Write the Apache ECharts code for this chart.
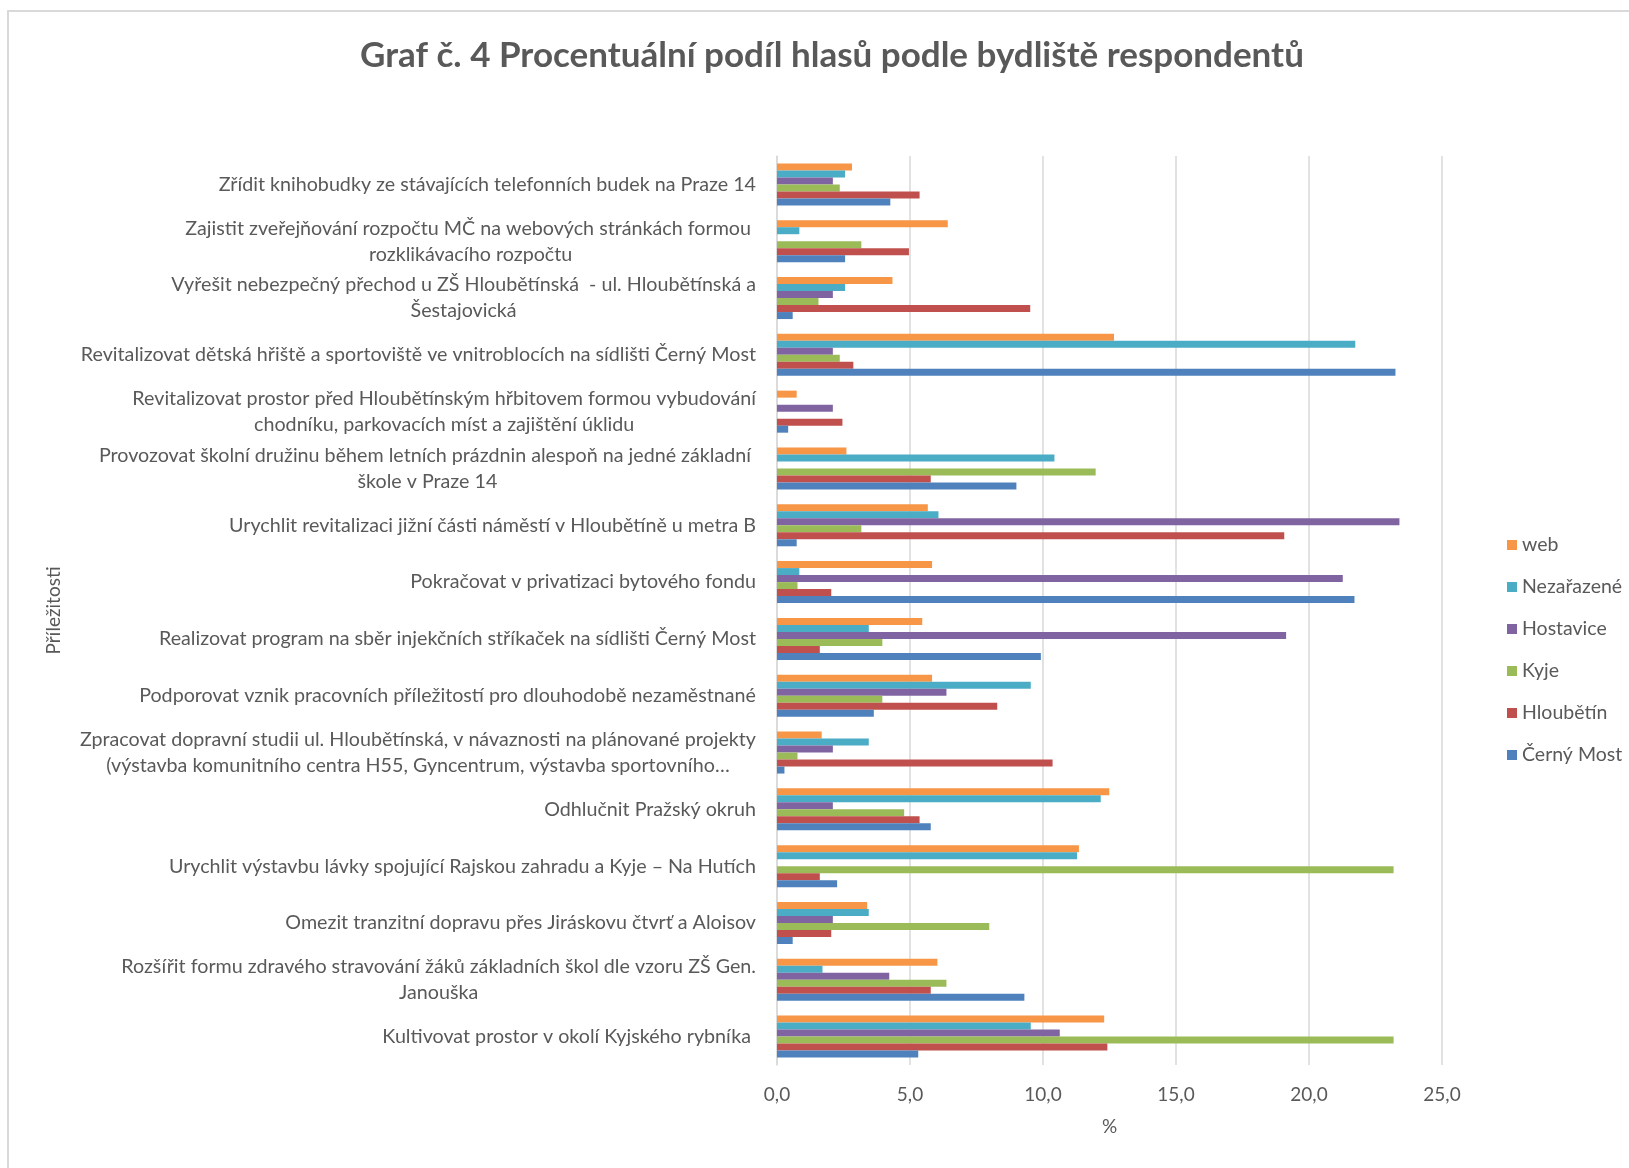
<!DOCTYPE html>
<html>
<head>
<meta charset="utf-8">
<script src="https://cdn.jsdelivr.net/npm/echarts@6/dist/echarts.min.js"></script>
<style>
html,body{margin:0;padding:0;background:#fff;}
#chart{width:1629px;height:1168px;}
</style>
</head>
<body>
<div id="chart"></div>
<script>
const categories = [
  'Zřídit knihobudky ze stávajících telefonních budek na Praze 14',
  'Zajistit zveřejňování rozpočtu MČ na webových stránkách formou \nrozklikávacího rozpočtu',
  'Vyřešit nebezpečný přechod u ZŠ Hloubětínská  - ul. Hloubětínská a\nŠestajovická',
  'Revitalizovat dětská hřiště a sportoviště ve vnitroblocích na sídlišti Černý Most',
  'Revitalizovat prostor před Hloubětínským hřbitovem formou vybudování\nchodníku, parkovacích míst a zajištění úklidu',
  'Provozovat školní družinu během letních prázdnin alespoň na jedné základní \nškole v Praze 14',
  'Urychlit revitalizaci jižní části náměstí v Hloubětíně u metra B',
  'Pokračovat v privatizaci bytového fondu',
  'Realizovat program na sběr injekčních stříkaček na sídlišti Černý Most',
  'Podporovat vznik pracovních příležitostí pro dlouhodobě nezaměstnané',
  'Zpracovat dopravní studii ul. Hloubětínská, v návaznosti na plánované projekty\n(výstavba komunitního centra H55, Gyncentrum, výstavba sportovního…',
  'Odhlučnit Pražský okruh',
  'Urychlit výstavbu lávky spojující Rajskou zahradu a Kyje – Na Hutích',
  'Omezit tranzitní dopravu přes Jiráskovu čtvrť a Aloisov',
  'Rozšířit formu zdravého stravování žáků základních škol dle vzoru ZŠ Gen.\nJanouška',
  'Kultivovat prostor v okolí Kyjského rybníka '
];
const seriesNames = ['web', 'Nezařazené', 'Hostavice', 'Kyje', 'Hloubětín', 'Černý Most'];
const web        = [2.82, 6.42, 4.34, 12.67, 0.74, 2.61, 5.67, 5.83, 5.46, 5.83, 1.68, 12.49, 11.35, 3.39, 6.03, 12.30];
const nezarazene = [2.56, 0.84, 2.56, 21.74, 0, 10.43, 6.07, 0.84, 3.45, 9.54, 3.45, 12.17, 11.28, 3.45, 1.71, 9.54];
const hostavice  = [2.10, 0, 2.10, 2.10, 2.10, 0, 23.40, 21.27, 19.14, 6.37, 2.10, 2.10, 0, 2.10, 4.22, 10.63];
const kyje       = [2.36, 3.17, 1.56, 2.36, 0, 11.98, 3.17, 0.77, 3.96, 3.96, 0.77, 4.78, 23.18, 7.98, 6.37, 23.18];
const hloubetin  = [5.36, 4.96, 9.52, 2.87, 2.46, 5.78, 19.07, 2.04, 1.61, 8.28, 10.36, 5.36, 1.61, 2.04, 5.78, 12.42];
const cernyMost  = [4.26, 2.56, 0.59, 23.25, 0.42, 9.00, 0.74, 21.71, 9.92, 3.64, 0.28, 5.78, 2.26, 0.59, 9.30, 5.31];
const xTicks = [0, 5, 10, 15, 20, 25];

const seriesData = [web, nezarazene, hostavice, kyje, hloubetin, cernyMost];
const colors = ['#F79646', '#4BACC6', '#8064A2', '#9BBB59', '#C0504D', '#4F81BD'];
const FONT = 'Lato';
const TXT = '#595959';

const chart = echarts.init(document.getElementById('chart'));
chart.setOption({
  animation: false,
  color: colors,
  textStyle: { fontFamily: FONT },
  graphic: [{
    type: 'rect',
    shape: { x: 8, y: 11, width: 1700, height: 1300 },
    style: { fill: 'none', stroke: '#D9D9D9', lineWidth: 2 },
    silent: true
  }],
  title: {
    text: 'Graf č. 4 Procentuální podíl hlasů podle bydliště respondentů',
    left: 355,
    top: 33,
    textStyle: { fontFamily: FONT, fontSize: 35, fontWeight: 'bold', color: TXT }
  },
  legend: {
    orient: 'vertical',
    left: 1502,
    top: 530,
    icon: 'rect',
    itemWidth: 10,
    itemHeight: 10,
    itemGap: 22,
    data: seriesNames,
    textStyle: { fontFamily: FONT, fontSize: 19.5, color: TXT }
  },
  grid: { left: 777, right: 187, top: 156, bottom: 103, containLabel: false },
  xAxis: {
    type: 'value',
    min: xTicks[0],
    max: xTicks[xTicks.length - 1],
    interval: 5,
    name: '%',
    nameLocation: 'middle',
    nameGap: 52,
    nameTextStyle: { fontFamily: FONT, fontSize: 19, color: TXT },
    axisLine: { show: false },
    axisTick: { show: false },
    axisLabel: {
      margin: 20,
      fontFamily: FONT, fontSize: 19, color: TXT,
      formatter: v => v.toFixed(1).replace('.', ',')
    },
    splitLine: { lineStyle: { color: '#D9D9D9', width: 1.5 } }
  },
  yAxis: {
    type: 'category',
    inverse: true,
    data: categories,
    name: 'Příležitosti',
    nameLocation: 'middle',
    nameRotate: 90,
    nameGap: 714,
    nameTextStyle: { fontFamily: FONT, fontSize: 19, color: TXT },
    axisLine: { show: true, lineStyle: { color: '#D9D9D9', width: 1.5 } },
    axisTick: { show: false },
    axisLabel: {
      margin: 21,
      align: 'right',
      interval: 0,
      formatter: v => v.split('\n').map(l => '{c|' + l + '}').join('\n'),
      rich: {
        c: { align: 'center', fontFamily: FONT, fontSize: 19.7, lineHeight: 26, color: TXT }
      }
    }
  },
  series: seriesNames.map((name, i) => ({
    name: name,
    type: 'bar',
    data: seriesData[i],
    barGap: '0%',
    barCategoryGap: '26%',
    itemStyle: { color: colors[i] }
  }))
});
</script>
</body>
</html>
